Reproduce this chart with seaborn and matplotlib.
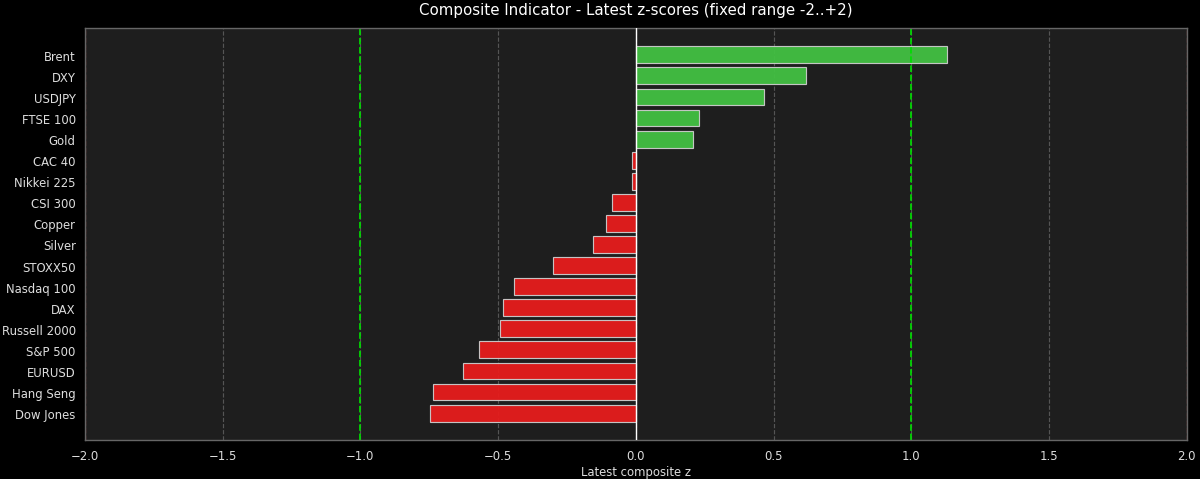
import matplotlib
matplotlib.use("Agg")
import matplotlib.pyplot as plt
import seaborn as sns
import pandas as pd

names = ["Brent", "DXY", "USDJPY", "FTSE 100", "Gold", "CAC 40", "Nikkei 225",
         "CSI 300", "Copper", "Silver", "STOXX50", "Nasdaq 100", "DAX",
         "Russell 2000", "S&P 500", "EURUSD", "Hang Seng", "Dow Jones"]
zscores = [1.13, 0.618, 0.466, 0.23, 0.209, -0.013, -0.013, -0.085, -0.11,
           -0.154, -0.30, -0.444, -0.484, -0.495, -0.571, -0.626, -0.735, -0.746]

df = pd.DataFrame({"name": names, "z": zscores})
df["sign"] = ["pos" if v >= 0 else "neg" for v in df["z"]]

sns.set_style("dark")
plt.rcParams['font.family'] = ['DejaVu Sans']

DPI = 1200 / 14.4
fig = plt.figure(figsize=(14.4, 5.76), dpi=DPI, facecolor="black")
ax = fig.add_axes([0.0708, 0.081, 0.9182, 0.859])
ax.set_facecolor("#1e1e1e")

sns.barplot(data=df, x="z", y="name", hue="sign",
            palette={"pos": "#42c042", "neg": "#e61c1c"},
            dodge=False, legend=False, ax=ax, width=0.8,
            edgecolor="#cccccc", linewidth=1.0, alpha=0.95, saturation=1)

ax.set_xlim(-2, 2)
ax.set_ylim(18.28, -1.28)
ax.axvline(0, color="white", linewidth=1.2, zorder=3)
for v in (-1, 1):
    ax.axvline(v, color="#00dd00", linestyle="--", linewidth=1.5, zorder=1)
for v in (-2, 2):
    ax.axvline(v, color="#aa3333", linestyle="--", linewidth=1.2, alpha=0.6, zorder=1)

ax.set_xticks([-2.0, -1.5, -1.0, -0.5, 0.0, 0.5, 1.0, 1.5, 2.0])
ax.xaxis.grid(True, color="#555555", linestyle="--", linewidth=1.0)
ax.yaxis.grid(False)
ax.set_axisbelow(True)
ax.tick_params(axis="x", colors="#dddddd", labelsize=10, length=4, width=1.0, color="#888888")
ax.tick_params(axis="y", colors="#dddddd", labelsize=10, length=0, pad=8)
for s in ax.spines.values():
    s.set_visible(True)
    s.set_color("#666666")
    s.set_linewidth(1.2)

ax.set_ylabel("")
ax.set_xlabel("Latest composite z", color="#dddddd", fontsize=10, labelpad=3)
ax.set_title("Composite Indicator - Latest z-scores (fixed range -2..+2)",
             color="white", fontsize=13, pad=12)

fig.savefig("out.png", dpi=DPI, facecolor="black")
